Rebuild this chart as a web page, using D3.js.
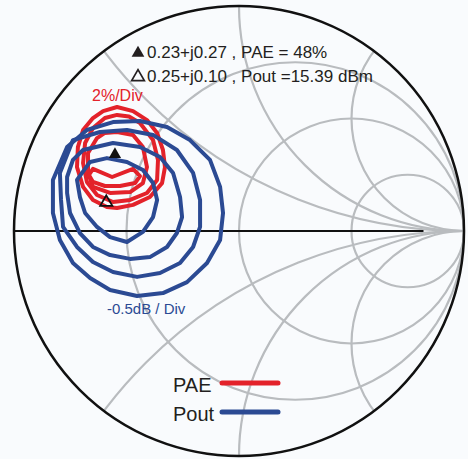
<!DOCTYPE html>
<html>
<head>
<meta charset="utf-8">
<script src="https://cdn.jsdelivr.net/npm/d3@7"></script>
<style>
  html, body { margin: 0; padding: 0; background: #f9fbfd; }
  svg { display: block; }
  text { font-family: "Liberation Sans", Arial, sans-serif; }
</style>
</head>
<body>
<svg id="chart" width="468" height="459"></svg>
<script>
// Smith chart grid: constant-resistance circles and constant-reactance arcs
const resistanceCircles = [1 / 3, 1, 3];
const reactanceArcs = [0.5, 1, 2];

// Load-pull optima (normalised impedance) and their measured values
const optimumPAE = { z: [0.23, 0.27], value: 48 };
const optimumPout = { z: [0.25, 0.10], value: 15.39 };

// PAE contours, 2 % per step, as reflection coefficient points [re, im]
const paeOuter = [[-0.542,0.551],[-0.471,0.533],[-0.409,0.493],[-0.364,0.436],[-0.338,0.360],[-0.329,0.284],[-0.342,0.213],[-0.396,0.151],[-0.471,0.116],[-0.542,0.102],[-0.587,0.107],[-0.649,0.138],[-0.693,0.196],[-0.720,0.284],[-0.716,0.373],[-0.693,0.449],[-0.649,0.502],[-0.604,0.533]];
const paeSecond = [[-0.542,0.516],[-0.489,0.509],[-0.440,0.480],[-0.382,0.404],[-0.360,0.316],[-0.364,0.227],[-0.409,0.169],[-0.484,0.138],[-0.560,0.129],[-0.631,0.160],[-0.676,0.218],[-0.693,0.302],[-0.684,0.391],[-0.649,0.458],[-0.596,0.502]];
const paeThird = [[-0.542,0.440],[-0.471,0.427],[-0.427,0.373],[-0.409,0.284],[-0.427,0.213],[-0.484,0.173],[-0.573,0.169],[-0.649,0.196],[-0.671,0.258],[-0.671,0.347],[-0.631,0.413],[-0.596,0.436]];
const paeInner = [[-0.649,0.276],[-0.564,0.240],[-0.471,0.276],[-0.440,0.244],[-0.462,0.213],[-0.529,0.200],[-0.596,0.200],[-0.649,0.218],[-0.667,0.249]];

// Pout contours, -0.5 dB per step
const poutInner = [[-0.720,0.227],[-0.662,0.307],[-0.587,0.324],[-0.498,0.307],[-0.427,0.271],[-0.382,0.213],[-0.364,0.138],[-0.382,0.062],[-0.427,-0.004],[-0.498,-0.049],[-0.573,-0.027],[-0.631,0.018],[-0.684,0.080],[-0.707,0.151]];
const poutSecond = [[-0.764,0.240],[-0.738,0.316],[-0.693,0.360],[-0.560,0.391],[-0.440,0.373],[-0.351,0.329],[-0.293,0.258],[-0.262,0.151],[-0.253,0.062],[-0.276,-0.009],[-0.320,-0.071],[-0.396,-0.116],[-0.484,-0.124],[-0.573,-0.107],[-0.649,-0.071],[-0.707,-0.009],[-0.751,0.080],[-0.764,0.169]];
const poutThird = [[-0.796,0.258],[-0.738,0.404],[-0.618,0.440],[-0.498,0.449],[-0.382,0.427],[-0.276,0.360],[-0.204,0.258],[-0.173,0.138],[-0.173,0.018],[-0.204,-0.071],[-0.262,-0.142],[-0.351,-0.187],[-0.453,-0.204],[-0.560,-0.182],[-0.649,-0.138],[-0.720,-0.071],[-0.782,0.018],[-0.791,0.138]];
const poutOuter = [[-0.827,0.227],[-0.764,0.373],[-0.676,0.449],[-0.560,0.484],[-0.440,0.489],[-0.320,0.462],[-0.218,0.404],[-0.129,0.316],[-0.084,0.196],[-0.071,0.080],[-0.084,-0.040],[-0.142,-0.142],[-0.231,-0.227],[-0.338,-0.276],[-0.453,-0.289],[-0.573,-0.262],[-0.662,-0.209],[-0.738,-0.142],[-0.796,-0.040],[-0.827,0.080]];

const paeContours = [paeOuter, paeSecond, paeThird, paeInner];
const poutContours = [poutOuter, poutThird, poutSecond, poutInner];

const paeStepLabel = "2%/Div";
const poutStepLabel = "-0.5dB / Div";
const legendLabels = ["PAE", "Pout"];

const RED = "#e3222a";
const BLUE = "#2b4a93";
const GRID = "#b9bcbf";
const INK = "#231f20";

const svg = d3.select("#chart");
const W = 468, H = 459;
const cx = 239, cy = 231, R = 225;

const x = d3.scaleLinear().domain([-1, 1]).range([cx - R, cx + R]);
const y = d3.scaleLinear().domain([-1, 1]).range([cy + R, cy - R]);
const len = d => x(d) - x(0);

// impedance -> reflection coefficient
function gamma([r, xi]) {
  const nr = r - 1, ni = xi, dr = r + 1, di = xi;
  const den = dr * dr + di * di;
  return [(nr * dr + ni * di) / den, (ni * dr - nr * di) / den];
}

svg.append("rect").attr("width", W).attr("height", H).attr("fill", "#f9fbfd");

svg.append("defs").append("clipPath").attr("id", "unit")
  .append("circle").attr("cx", x(0)).attr("cy", y(0)).attr("r", len(1));

const grid = svg.append("g").attr("clip-path", "url(#unit)")
  .attr("fill", "none").attr("stroke", GRID).attr("stroke-width", 2.2);

grid.selectAll("circle.res").data(resistanceCircles).join("circle")
  .attr("class", "res")
  .attr("cx", r => x(r / (1 + r)))
  .attr("cy", y(0))
  .attr("r", r => len(1 / (1 + r)));

const arcs = reactanceArcs.flatMap(v => [v, -v]);
grid.selectAll("circle.reac").data(arcs).join("circle")
  .attr("class", "reac")
  .attr("cx", x(1))
  .attr("cy", v => y(1 / v))
  .attr("r", v => len(1 / Math.abs(v)));

// real axis
svg.append("line")
  .attr("x1", x(-1)).attr("x2", x(0.82))
  .attr("y1", y(0)).attr("y2", y(0))
  .attr("stroke", "#111").attr("stroke-width", 2.2);

// outer boundary |Γ| = 1
svg.append("circle")
  .attr("cx", x(0)).attr("cy", y(0)).attr("r", len(1))
  .attr("fill", "none").attr("stroke", "#111").attr("stroke-width", 2.5);

const contourLine = d3.line().x(d => x(d[0])).y(d => y(d[1])).curve(d3.curveLinearClosed);

svg.append("g").selectAll("path").data(paeContours).join("path")
  .attr("d", contourLine)
  .attr("fill", "none").attr("stroke", RED).attr("stroke-width", 4)
  .attr("stroke-linejoin", "round");

svg.append("g").selectAll("path").data(poutContours).join("path")
  .attr("d", contourLine)
  .attr("fill", "none").attr("stroke", BLUE).attr("stroke-width", 4)
  .attr("stroke-linejoin", "round");

// optimum markers
const tri = d3.symbol().type(d3.symbolTriangle).size(64);
const gP = gamma(optimumPAE.z), gO = gamma(optimumPout.z);
svg.append("path").attr("d", tri())
  .attr("transform", `translate(${x(gP[0])},${y(gP[1])})`)
  .attr("fill", "#111");
svg.append("path").attr("d", tri())
  .attr("transform", `translate(${x(gO[0])},${y(gO[1])})`)
  .attr("fill", "none").attr("stroke", "#111").attr("stroke-width", 1.8);

// annotation lines
const fmtZ = z => `${z[0].toFixed(2)}+j${z[1].toFixed(2)}`;
const notes = [
  { text: `${fmtZ(optimumPAE.z)} , PAE = ${optimumPAE.value}%`, filled: true, base: 58 },
  { text: `${fmtZ(optimumPout.z)} , Pout =${optimumPout.value} dBm`, filled: false, base: 82 }
];
const smallTri = d3.symbol().type(d3.symbolTriangle).size(70);
notes.forEach(n => {
  svg.append("path").attr("d", smallTri())
    .attr("transform", `translate(138,${n.base - 5})`)
    .attr("fill", n.filled ? INK : "none")
    .attr("stroke", n.filled ? "none" : INK)
    .attr("stroke-width", 1.7);
  svg.append("text").attr("x", 147).attr("y", n.base)
    .attr("font-size", 17).attr("fill", INK).text(n.text);
});

svg.append("text").attr("x", 92).attr("y", 101)
  .attr("font-size", 16).attr("fill", RED).text(paeStepLabel);
svg.append("text").attr("x", 107).attr("y", 314)
  .attr("font-size", 15).attr("fill", BLUE).text(poutStepLabel);

// legend
const legendColors = [RED, BLUE];
const legend = svg.append("g");
legendLabels.forEach((lab, i) => {
  const base = 392 + i * 29;
  legend.append("text").attr("x", 173).attr("y", base)
    .attr("font-size", 20).attr("fill", INK).text(lab);
  legend.append("line")
    .attr("x1", 222).attr("x2", 278)
    .attr("y1", base - 9).attr("y2", base - 9)
    .attr("stroke", legendColors[i]).attr("stroke-width", 5)
    .attr("stroke-linecap", "round");
});
</script>
</body>
</html>
